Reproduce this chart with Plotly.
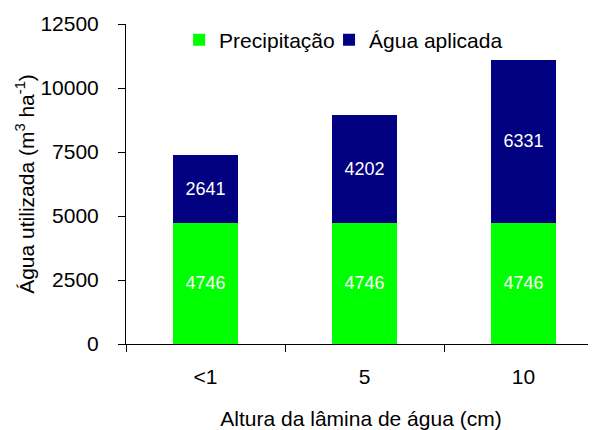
import plotly.graph_objects as go

categories = ["<1", "5", "10"]
precipitacao = [4746, 4746, 4746]
agua_aplicada = [2641, 4202, 6331]
y_ticks = [0, 2500, 5000, 7500, 10000, 12500]

FONT = "Liberation Sans, Arial, sans-serif"

fig = go.Figure()
fig.add_trace(go.Bar(
    x=categories, y=precipitacao, name="Precipitação",
    marker=dict(color="#00FF00", line=dict(width=0)),
    text=[str(v) for v in precipitacao], textposition="inside",
    insidetextanchor="middle", textangle=0,
    textfont=dict(color="white", size=18, family=FONT),
    width=0.41, legend="legend",
))
fig.add_trace(go.Bar(
    x=categories, y=agua_aplicada, name="Água aplicada",
    marker=dict(color="#000080", line=dict(width=0)),
    text=[str(v) for v in agua_aplicada], textposition="inside",
    insidetextanchor="middle", textangle=0,
    textfont=dict(color="white", size=18, family=FONT),
    width=0.41, legend="legend2",
))

legend_common = dict(
    orientation="h", y=0.95, xanchor="left", yanchor="middle",
    xref="paper", yref="paper",
    font=dict(size=21, family=FONT),
    bgcolor="rgba(0,0,0,0)", itemwidth=30,
)

fig.update_layout(
    width=588, height=422,
    barmode="stack",
    paper_bgcolor="white", plot_bgcolor="white",
    margin=dict(l=118, r=0, t=16, b=86, autoexpand=False),
    font=dict(family=FONT, size=21, color="black"),
    showlegend=True,
    legend=dict(x=0.113, **legend_common),
    legend2=dict(x=0.432, **legend_common),
)

fig.update_xaxes(
    type="category", range=[-0.5, 2.456], automargin=False,
    showline=True, linecolor="black", linewidth=1,
    ticks="outside", ticklen=7, tickcolor="black", tickson="boundaries",
    showgrid=False, zeroline=False,
    tickfont=dict(size=21), ticklabelstandoff=14,
    title=dict(text="Altura da lâmina de água (cm)", font=dict(size=21), standoff=25),
)
fig.update_yaxes(
    range=[0, 12500], tickvals=y_ticks, ticktext=[str(v) for v in y_ticks],
    automargin=False,
    showline=True, linecolor="black", linewidth=1,
    ticks="outside", ticklen=7, tickcolor="black",
    showgrid=False, zeroline=False,
    tickfont=dict(size=21), ticklabelstandoff=15,
    title=dict(text="Água utilizada (m<sup>3</sup> ha<sup>-1</sup>)", font=dict(size=21), standoff=0),
)

fig.write_html("out.html")
